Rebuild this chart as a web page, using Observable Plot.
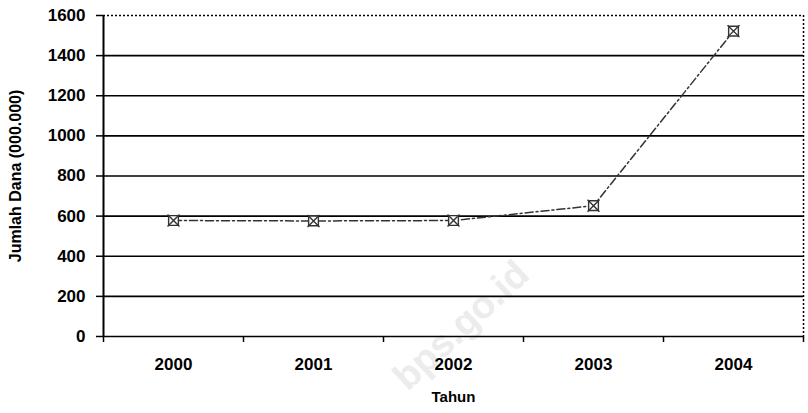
<!DOCTYPE html>
<html><head><meta charset="utf-8">
<script src="https://cdn.jsdelivr.net/npm/d3@7"></script>
<script src="https://cdn.jsdelivr.net/npm/@observablehq/plot@0.6"></script>
<style>
html,body{margin:0;padding:0;background:#fff;}
#chart svg{display:block;}
</style></head><body><div id="chart"></div>
<script>
const years = [2000, 2001, 2002, 2003, 2004];
const values = [578, 576, 578, 652, 1522];
const yTicks = [0, 200, 400, 600, 800, 1000, 1200, 1400, 1600];
const gridValues = [200, 400, 600, 800, 1000, 1200, 1400];
const xLabel = "Tahun";
const yLabel = "Jumlah Dana (000.000)";
const watermark = "bps.go.id";

const data = years.map((y, i) => ({year: y, value: values[i]}));
const bounds = [years[0] - 0.5, ...years.map(y => y + 0.5)];

const chart = Plot.plot({
  width: 808, height: 413,
  marginLeft: 103, marginRight: 5, marginTop: 15, marginBottom: 77,
  style: {fontFamily: "'Liberation Sans', Arial, sans-serif", fontSize: "17px", fontWeight: "bold", background: "white", color: "black"},
  x: {domain: [bounds[0], bounds[bounds.length - 1]], label: null},
  y: {domain: [yTicks[0], yTicks[yTicks.length - 1]], label: null},
  marks: [
    Plot.text([watermark], {text: d => d, frameAnchor: "bottom", dx: 16, dy: -2, rotate: -43, fontSize: 38, fill: "#ececec", fontWeight: "bold"}),
    Plot.ruleY(gridValues, {stroke: "black", strokeWidth: 1.6}),
    Plot.ruleY([yTicks[yTicks.length - 1]], {stroke: "black", strokeDasharray: "2,2", strokeWidth: 1.5}),
    Plot.ruleX([bounds[bounds.length - 1]], {stroke: "black", strokeDasharray: "2,2", strokeWidth: 1.5}),
    Plot.ruleY([0], {stroke: "black", strokeWidth: 1.5}),
    Plot.ruleX([bounds[0]], {stroke: "black", strokeWidth: 2}),
    Plot.axisY({ticks: yTicks, tickSize: 7, tickPadding: 11, tickFormat: d => String(d), strokeWidth: 1.5}),
    Plot.axisX({ticks: years, tickSize: 0, tickPadding: 21, tickFormat: d => String(d)}),
    Plot.axisX({ticks: bounds, tickSize: 6, tickFormat: () => "", strokeWidth: 1.5}),
    Plot.line(data, {x: "year", y: "value", curve: "linear", stroke: "#333", strokeWidth: 1.5, strokeDasharray: "8,3,2,3"}),
    Plot.dot(data, {x: "year", y: "value", symbol: "square", r: 5.5, stroke: "#333", fill: "white", strokeWidth: 1.4}),
    Plot.dot(data, {x: "year", y: "value", symbol: "times", r: 5.5, stroke: "#333", strokeWidth: 1.4}),
    Plot.text([yLabel], {text: d => d, frameAnchor: "left", textAnchor: "middle", dx: -88, rotate: -90, fontSize: 16, fontWeight: "bold"}),
    Plot.text([xLabel], {text: d => d, frameAnchor: "bottom", dy: 65, fontSize: 15, fontWeight: "bold"})
  ]
});
document.getElementById("chart").appendChild(chart);
</script></body></html>
